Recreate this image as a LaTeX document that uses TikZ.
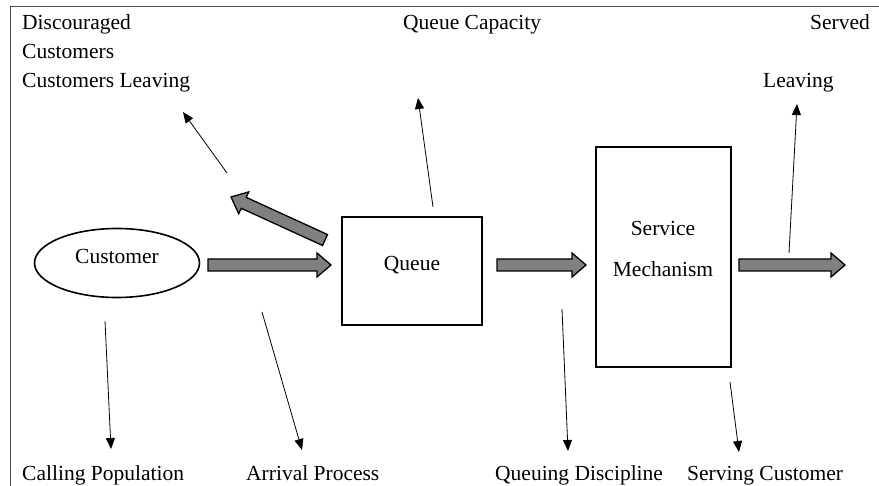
\documentclass[tikz,border=0pt]{standalone}
\usepackage{fontspec}
\setmainfont{Liberation Serif}
\usetikzlibrary{shapes.geometric,arrows.meta,calc}

\tikzset{
  lbl/.style={inner sep=0pt, font=\fontsize{21.5}{26}\selectfont},
  boxnode/.style={draw, line width=1.6pt, inner sep=0pt},
  thin/.style={line width=0.8pt, -{Triangle[length=11pt,width=9pt]}},
  fat/.style={draw=black, line width=1.3pt, fill=black!50, line join=miter},
}

% block arrow from tail centre #1 to tip #2
\newcommand\blockarrow[2]{%
  \coordinate (ha) at ($(#2)!14pt!(#1)$);
  \path[fat]
    ($(#1)!6pt!90:(#2)$) -- ($(ha)!6pt!-90:(#1)$) -- ($(ha)!12pt!-90:(#1)$)
    -- (#2) -- ($(ha)!12pt!90:(#1)$) -- ($(ha)!6pt!90:(#1)$)
    -- ($(#1)!6pt!-90:(#2)$) -- cycle;
}

\begin{document}
\begin{tikzpicture}[x=1pt, y=-1pt]
\useasboundingbox (0,0) rectangle (879,486);

% frame
\draw[line width=0.8pt, black!70] (10,486) -- (10,6) -- (879,6);

% main nodes
\node[boxnode, ellipse, minimum width=165pt, minimum height=69pt] (cust) at (117,263) {};
\node[lbl, anchor=base] (custT) at (117,264) {Customer};
\node[boxnode, rectangle, minimum width=140pt, minimum height=108pt] (queue) at (412,271) {};
\node[lbl, anchor=base] (queueT) at (412,271) {Queue};
\node[boxnode, rectangle, minimum width=135pt, minimum height=220pt] (serv) at (663.5,257) {};
\node[lbl, anchor=base] (servT1) at (663,236) {Service};
\node[lbl, anchor=base] (servT2) at (663,277) {Mechanism};

% labels
\node[lbl, anchor=base west] (disc1) at (22,30) {Discouraged};
\node[lbl, anchor=base west] (disc2) at (22,59) {Customers};
\node[lbl, anchor=base west] (disc3) at (22,88) {Customers Leaving};
\node[lbl, anchor=base west] (qcap) at (403,30) {Queue Capacity};
\node[lbl, anchor=base east] (served) at (870,30) {Served};
\node[lbl, anchor=base west] (leave) at (763,88) {Leaving};
\node[lbl, anchor=base west] (callp) at (22,480) {Calling Population};
\node[lbl, anchor=base west] (arrp) at (246,480) {Arrival Process};
\node[lbl, anchor=base west] (qdisc) at (495,480) {Queuing Discipline};
\node[lbl, anchor=base west] (servc) at (687,480) {Serving Customer};

% block arrows along the flow
\coordinate (a1s) at (208,265); \coordinate (a1e) at (331,265);
\coordinate (a2s) at (497,265); \coordinate (a2e) at (586,265);
\coordinate (a3s) at (739,265); \coordinate (a3e) at (845,265);
\coordinate (a4s) at (325,240); \coordinate (a4e) at (231,197);
\blockarrow{a1s}{a1e}
\blockarrow{a2s}{a2e}
\blockarrow{a3s}{a3e}
\blockarrow{a4s}{a4e}

% thin pointer arrows
\coordinate (p1s) at (227,173); \coordinate (p1e) at (183,112);
\coordinate (p2s) at (433,207); \coordinate (p2e) at (418,98);
\coordinate (p3s) at (789,253); \coordinate (p3e) at (797,104);
\coordinate (p4s) at (105,321); \coordinate (p4e) at (111,449);
\coordinate (p5s) at (262,312); \coordinate (p5e) at (302,450);
\coordinate (p6s) at (562,309); \coordinate (p6e) at (568,451);
\coordinate (p7s) at (730,382); \coordinate (p7e) at (739,452);
\foreach \i in {1,...,7} \draw[thin] (p\i s) -- (p\i e);
\end{tikzpicture}
\end{document}
